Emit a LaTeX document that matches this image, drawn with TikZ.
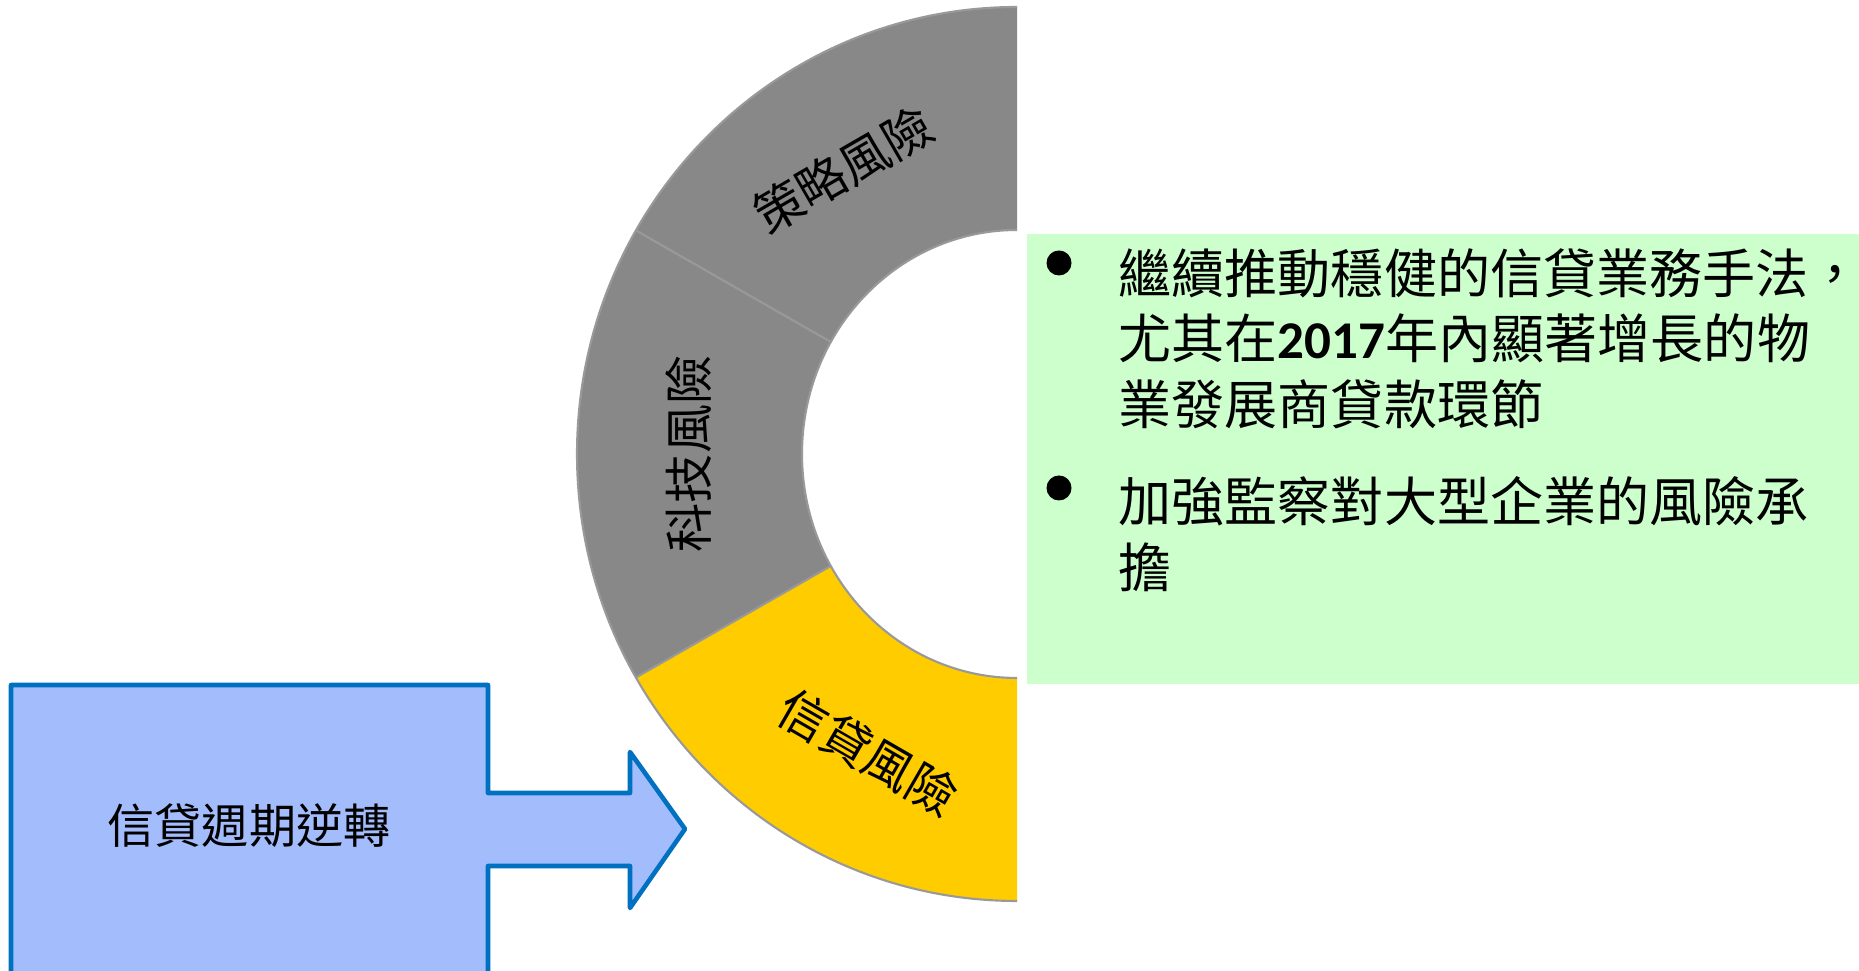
\documentclass[tikz,border=0pt]{standalone}
\usepackage{fontspec}
\setmainfont{Noto Sans CJK TC}
\newfontfamily\yearfont{Carlito}
\usepackage{tikz}
\definecolor{riskgrey}{HTML}{888888}
\definecolor{riskyellow}{HTML}{FFCC00}
\definecolor{shiftblue}{HTML}{A2BCFC}
\definecolor{shiftedge}{HTML}{0070C0}
\definecolor{notegreen}{HTML}{CCFFCC}

\begin{document}
\begin{tikzpicture}[
    ringedge/.style={draw=black!40, line width=0.6pt},
    risklabel/.style={font=\fontsize{14}{16}\selectfont, inner sep=0pt},
    shiftarrow/.style={fill=shiftblue, draw=shiftedge, line width=1.3pt, line join=round},
    notebox/.style={fill=notegreen, draw=none, inner sep=0pt, anchor=north west},
    notedot/.style={circle, fill=black, inner sep=0pt, minimum size=0.25cm},
    noteitem/.style={font=\fontsize{15.1}{18.6}\selectfont, align=left, inner sep=0pt, anchor=north west}
]
\useasboundingbox (0,0) rectangle (18.59,9.71);

% half ring of risks
\begin{scope}[shift={(10.17,5.17)}]
  \fill[riskgrey] (90:4.40 and 4.47) arc[start angle=90, end angle=150, x radius=4.40, y radius=4.47]
      -- (150:2.15 and 2.24) arc[start angle=150, end angle=90, x radius=2.15, y radius=2.24] -- cycle;
  \fill[riskgrey] (150:4.40 and 4.47) arc[start angle=150, end angle=210, x radius=4.40, y radius=4.47]
      -- (210:2.15 and 2.24) arc[start angle=210, end angle=150, x radius=2.15, y radius=2.24] -- cycle;
  \fill[riskyellow] (210:4.40 and 4.47) arc[start angle=210, end angle=270, x radius=4.40, y radius=4.47]
      -- (270:2.15 and 2.24) arc[start angle=270, end angle=210, x radius=2.15, y radius=2.24] -- cycle;
  \draw[ringedge] (90:4.40 and 4.47) arc[start angle=90, end angle=270, x radius=4.40, y radius=4.47];
  \draw[ringedge] (90:2.15 and 2.24) arc[start angle=90, end angle=270, x radius=2.15, y radius=2.24];
  \draw[ringedge] (150:2.15 and 2.24) -- (150:4.40 and 4.47);
  \draw[ringedge] (210:2.15 and 2.24) -- (210:4.40 and 4.47);
  \node[risklabel, rotate=30] (strategy) at (122:3.28 and 3.35) {策略風險};
  \node[risklabel, rotate=90] (technology) at (180:3.28 and 3.35) {科技風險};
  \node[risklabel, rotate=-30] (credit) at (243:3.28 and 3.35) {信貸風險};
\end{scope}

% box with arrow
\path[shiftarrow] (0.11,0) -- (0.11,2.86) -- (4.88,2.86) -- (4.88,1.78) -- (6.30,1.78)
    -- (6.30,2.19) -- (6.85,1.42) -- (6.30,0.63) -- (6.30,1.05) -- (4.88,1.05) -- (4.88,0);
\node[font=\fontsize{13.4}{16}\selectfont] (reversal) at (2.49,1.45) {信貸週期逆轉};

% notes
\node[notebox, minimum width=8.33cm, minimum height=4.50cm] (notes) at (10.26,7.38) {};
\node[notedot] (dot1) at (10.59,7.08) {};
\node[notedot] (dot2) at (10.59,4.83) {};
\node[noteitem] (item1) at (11.18,7.23) {繼續推動穩健的信貸業務手法，\\尤其在{\yearfont\bfseries 2017}年內顯著增長的物\\業發展商貸款環節};
\node[noteitem] (item2) at (11.18,4.95) {加強監察對大型企業的風險承\\擔};
\end{tikzpicture}
\end{document}
